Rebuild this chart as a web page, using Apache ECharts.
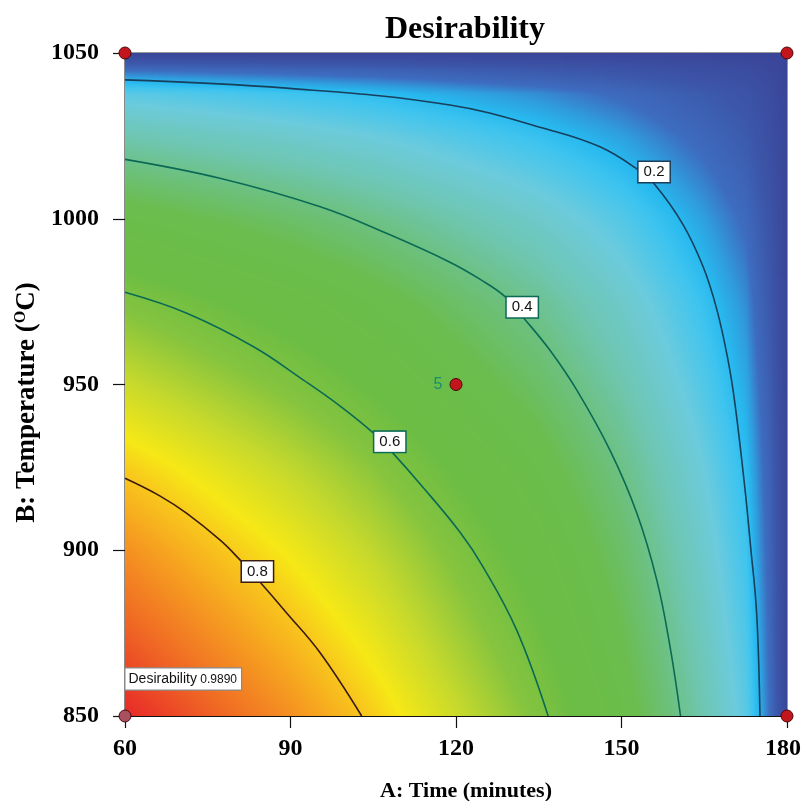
<!DOCTYPE html>
<html>
<head>
<meta charset="utf-8">
<script src="https://cdn.jsdelivr.net/npm/echarts@6/dist/echarts.min.js"></script>
<style>
  html, body { margin: 0; padding: 0; background: #fff; overflow: hidden; }
  #chart { width: 803px; height: 801px; }
</style>
</head>
<body>
<div id="chart"></div>
<script>
// Grid nodes of the response surface (A: time, B: temperature)
const timeNodes = [60, 75, 90, 105, 120, 135, 150, 165, 172.5, 177, 180];
const tempNodes = [850, 875, 900, 925, 950, 975, 1000, 1025, 1037.5, 1045, 1050];

// Desirability at each node; one row per temperature, one column per time
const desirabilityGrid = [
  [0.990, 0.925, 0.861, 0.786, 0.697, 0.607, 0.488, 0.338, 0.249, 0.129, 0],
  [0.925, 0.865, 0.804, 0.735, 0.651, 0.567, 0.456, 0.316, 0.233, 0.121, 0],
  [0.861, 0.804, 0.748, 0.683, 0.606, 0.528, 0.424, 0.294, 0.216, 0.112, 0],
  [0.786, 0.735, 0.683, 0.624, 0.553, 0.482, 0.387, 0.269, 0.198, 0.103, 0],
  [0.697, 0.651, 0.606, 0.553, 0.490, 0.427, 0.343, 0.238, 0.175, 0.091, 0],
  [0.607, 0.567, 0.528, 0.482, 0.427, 0.372, 0.299, 0.207, 0.153, 0.079, 0],
  [0.488, 0.456, 0.424, 0.387, 0.343, 0.299, 0.240, 0.167, 0.123, 0.064, 0],
  [0.338, 0.316, 0.294, 0.269, 0.238, 0.207, 0.167, 0.116, 0.085, 0.044, 0],
  [0.249, 0.233, 0.216, 0.198, 0.175, 0.153, 0.123, 0.085, 0.063, 0.033, 0],
  [0.129, 0.121, 0.112, 0.103, 0.091, 0.079, 0.064, 0.044, 0.033, 0.017, 0],
  [0, 0, 0, 0, 0, 0, 0, 0, 0, 0, 0]
];

// Contour lines, [time, temperature] along each level
const contour02 = [[60,1041.9],[89.3,1039.4],[118.9,1034.3],[137,1026.8],[146.1,1021.7],[152.9,1014.9],[156.1,1010.2],[161.1,998.4],[164.8,985.5],[167.3,972.5],[169.3,957.4],[170.6,943.8],[172.4,918.2],[173.4,901.1],[174.5,881],[175.1,850]];
const contour04 = [[60,1017.9],[77.2,1012.2],[95.4,1003.6],[107.4,995.6],[118.9,986.9],[124.4,981.7],[128.9,976.5],[132.3,970],[137,960.4],[141.9,948.3],[147.9,930.2],[152.8,911.1],[156.4,891],[158.8,870.9],[160.7,850]];
const contour06 = [[60,977.8],[71.2,971.5],[83.3,961.4],[92.3,951.4],[99,943.5],[105,935.4],[108.4,929.6],[113.5,920],[120.7,905.5],[124.9,895],[131,875.9],[136.7,850]];
const contour08 = [[60,921.7],[66.3,916.4],[71.2,911.1],[77.2,903.1],[80.5,897.7],[84.3,890.7],[89.3,881.1],[95.4,869],[102.9,850]];

// Level labels and where they sit on their lines
const contourLevels = ['0.2', '0.4', '0.6', '0.8'];
const contourLabelAt = [[155.9,1014.1],[132,973.3],[108,932.7],[84,893.6]];

// Design points and center-point replicates
const designPoints = [[60,1050],[180,1050],[180,850],[120,950]];
const centerRuns = 5;
const optimumPoint = [60, 850];
const optimumValue = '0.9890';

const xTicks = [60, 90, 120, 150, 180];
const yTicks = [850, 900, 950, 1000, 1050];

// Colour ramp for desirability 0..1
const rampStops = [
  [0.00, '#3a4598'], [0.07, '#3c55a8'], [0.13, '#3d6cbf'], [0.165, '#2f9ede'],
  [0.19, '#27b9ef'], [0.215, '#3ec4ef'], [0.27, '#6ccbdc'], [0.34, '#6ec6b0'],
  [0.40, '#6cc07a'], [0.46, '#6bbd4e'], [0.56, '#6cbd44'], [0.62, '#86c43e'],
  [0.69, '#c6d92c'], [0.755, '#f6e816'], [0.79, '#f8c81c'], [0.84, '#f6a020'],
  [0.91, '#f06a24'], [1.00, '#e61f29']
];
const rampRgb = rampStops.map(s => [s[0], parseInt(s[1].slice(1,3),16), parseInt(s[1].slice(3,5),16), parseInt(s[1].slice(5,7),16)]);
function rampColor(v) {
  if (v <= 0) return rampRgb[0].slice(1);
  if (v >= 1) return rampRgb[rampRgb.length-1].slice(1);
  for (let k = 1; k < rampRgb.length; k++) {
    if (v <= rampRgb[k][0]) {
      const a = rampRgb[k-1], b = rampRgb[k];
      const f = (v - a[0]) / (b[0] - a[0]);
      return [a[1] + (b[1]-a[1])*f, a[2] + (b[2]-a[2])*f, a[3] + (b[3]-a[3])*f];
    }
  }
  return rampRgb[rampRgb.length-1].slice(1);
}

// One item per grid cell: corners plus the four node values
const cellData = [];
for (let j = 0; j < tempNodes.length - 1; j++) {
  for (let i = 0; i < timeNodes.length - 1; i++) {
    cellData.push([
      timeNodes[i], tempNodes[j], timeNodes[i+1], tempNodes[j+1],
      desirabilityGrid[j][i], desirabilityGrid[j][i+1],
      desirabilityGrid[j+1][i], desirabilityGrid[j+1][i+1]
    ]);
  }
}

function renderCell(params, api) {
  const p0 = api.coord([api.value(0), api.value(3)]); // top-left
  const p1 = api.coord([api.value(2), api.value(1)]); // bottom-right
  const x0 = Math.round(p0[0]), y0 = Math.round(p0[1]);
  const x1 = Math.round(p1[0]), y1 = Math.round(p1[1]);
  const w = Math.max(1, x1 - x0), h = Math.max(1, y1 - y0);
  const vBL = api.value(4), vBR = api.value(5), vTL = api.value(6), vTR = api.value(7);
  const cv = document.createElement('canvas');
  cv.width = w; cv.height = h;
  const ctx = cv.getContext('2d');
  const img = ctx.createImageData(w, h);
  for (let py = 0; py < h; py++) {
    const fy = (py + 0.5) / h; // 0 at top
    for (let px = 0; px < w; px++) {
      const fx = (px + 0.5) / w;
      const top = vTL + (vTR - vTL) * fx;
      const bot = vBL + (vBR - vBL) * fx;
      const v = top + (bot - top) * fy;
      const c = rampColor(v);
      const o = (py * w + px) * 4;
      img.data[o] = c[0]; img.data[o+1] = c[1]; img.data[o+2] = c[2]; img.data[o+3] = 255;
    }
  }
  ctx.putImageData(img, 0, 0);
  return { type: 'image', style: { image: cv, x: x0, y: y0, width: w, height: h } };
}

const serifFont = '"Liberation Serif", "Times New Roman", serif';
const sansFont = '"Liberation Sans", Arial, sans-serif';

function contourSeries(data, color) {
  return {
    type: 'line', data: data, smooth: 0.4, symbol: 'none', z: 3,
    lineStyle: { color: color, width: 1.6 }, silent: true
  };
}
const contourColors = ['#183f5c', '#0b6a55', '#0b6a55', '#3a1c12'];

const tickFont = { fontFamily: serifFont, fontWeight: 'bold', fontSize: 24, color: '#000' };

const chart = echarts.init(document.getElementById('chart'), null, { renderer: 'canvas', width: 803, height: 801 });
chart.setOption({
  animation: false,
  title: {
    text: 'Desirability', left: 380, top: 9,
    textStyle: { fontFamily: serifFont, fontWeight: 'bold', fontSize: 32, color: '#000' }
  },
  grid: {
    left: 125, width: 662, top: 53, height: 663, outerBoundsMode: 'none', containLabel: false,
    show: true, borderColor: '#333', borderWidth: 1, backgroundColor: 'transparent'
  },
  xAxis: {
    type: 'value', min: 60, max: 180, interval: 30,
    name: 'A: Time (minutes)', nameLocation: 'middle', nameGap: 64,
    nameTextStyle: { fontFamily: serifFont, fontWeight: 'bold', fontSize: 22, color: '#000', padding: [0, 0, 0, 20] },
    axisLine: { show: true, lineStyle: { color: '#111', width: 1.2 } },
    axisTick: { show: true, length: 12, lineStyle: { color: '#111', width: 1.2 } },
    axisLabel: Object.assign({ margin: 21,
      formatter: v => !xTicks.includes(v) ? '' : (v === xTicks[xTicks.length - 1] ? '{edge|' + v + '}' : String(v)),
      rich: { edge: Object.assign({ padding: [0, 8, 0, 0] }, tickFont) } }, tickFont),
    splitLine: { show: false }
  },
  yAxis: {
    type: 'value', min: 850, max: 1050, interval: 50,
    name: 'B: Temperature ({sup|O}C)', nameLocation: 'middle', nameGap: 84,
    nameTextStyle: { fontFamily: serifFont, fontWeight: 'bold', fontSize: 27, color: '#000', padding: [0, 36, 0, 0],
      rich: { sup: { fontFamily: serifFont, fontWeight: 'bold', fontSize: 16, color: '#000', padding: [0, 0, 12, 0] } } },
    axisLine: { show: true, lineStyle: { color: '#111', width: 1.2 } },
    axisTick: { show: true, length: 12, lineStyle: { color: '#111', width: 1.2 } },
    axisLabel: Object.assign({ margin: 26, formatter: v => yTicks.includes(v) ? String(v) : '' }, tickFont),
    splitLine: { show: false }
  },
  series: [
    {
      type: 'custom', renderItem: renderCell, data: cellData, z: 1, silent: true,
      encode: { x: [0, 2], y: [1, 3] }, clip: true
    },
    contourSeries(contour02, contourColors[0]),
    contourSeries(contour04, contourColors[1]),
    contourSeries(contour06, contourColors[2]),
    contourSeries(contour08, contourColors[3]),
    {
      // level labels on the contour lines
      type: 'scatter', z: 6, symbolSize: 0, clip: false, silent: true,
      itemStyle: { opacity: 1 },
      data: contourLabelAt.map((p, k) => ({
        value: p,
        label: {
          show: true, position: 'inside', formatter: contourLevels[k],
          fontFamily: sansFont, fontSize: 15, color: '#111',
          backgroundColor: '#fff', borderColor: contourColors[k], borderWidth: 1.5,
          padding: [3, 5, 2, 5]
        }
      }))
    },
    {
      // design points
      type: 'scatter', z: 7, clip: false, symbolSize: 12, silent: true,
      itemStyle: { color: '#c3161c', borderColor: '#4a0808', borderWidth: 1, opacity: 1 },
      data: designPoints.map((p, k) => ({
        value: p,
        label: (k === designPoints.length - 1) ? {
          show: true, position: 'left', distance: 7, formatter: String(centerRuns),
          fontFamily: sansFont, fontSize: 16, color: '#1a8e6e'
        } : { show: false }
      }))
    },
    {
      // optimum flag
      type: 'scatter', z: 8, clip: false, symbolSize: 12, silent: true,
      itemStyle: { color: '#a8505e', borderColor: '#4a0a12', borderWidth: 1, opacity: 1 },
      data: [{ value: optimumPoint }],
      label: {
        show: true, position: 'right', distance: -6, offset: [0, -37],
        formatter: '{a|Desirability} {b|' + optimumValue + '}',
        backgroundColor: '#fff', borderColor: '#8a8a8a', borderWidth: 1.2,
        padding: [4, 4, 3, 3],
        rich: {
          a: { fontFamily: sansFont, fontSize: 14, color: '#111' },
          b: { fontFamily: sansFont, fontSize: 12, color: '#111' }
        }
      }
    }
  ]
});
</script>
</body>
</html>
